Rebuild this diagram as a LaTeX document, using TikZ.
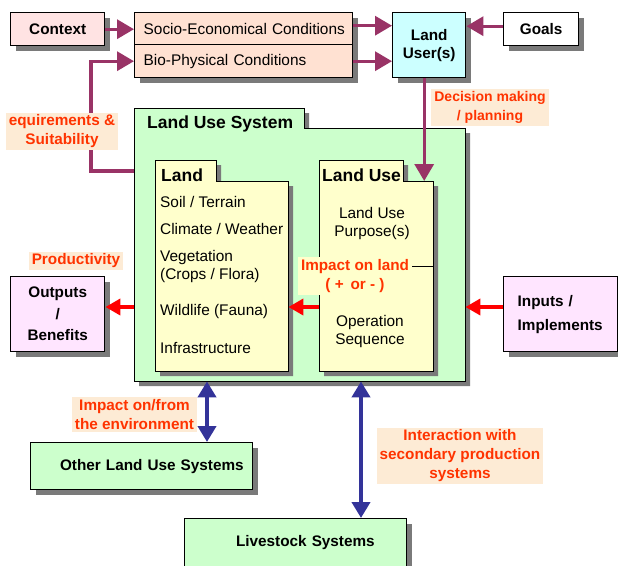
\documentclass[tikz,border=0pt]{standalone}
\usepackage{fontspec}
\setmainfont{Liberation Sans}
\usetikzlibrary{arrows.meta,shadows}

\definecolor{rosebox}{HTML}{FFE3E3}
\definecolor{peachbox}{HTML}{FFE1D2}
\definecolor{skybox}{HTML}{CCFFFF}
\definecolor{greenbox}{HTML}{CCFFCC}
\definecolor{creambox}{HTML}{FFFFCC}
\definecolor{lilacbox}{HTML}{FFE5FF}
\definecolor{plumline}{HTML}{993366}
\definecolor{blueline}{HTML}{333399}
\definecolor{labelred}{HTML}{FF3300}
\definecolor{labelbg}{HTML}{FDEBD5}
\definecolor{boxshade}{HTML}{7A7A7A}

\newcommand{\folderbox}[7]{%
  \fill[boxshade] (#1+5,#2+5) -- (#3+5,#2+5) -- (#3+5,#4+5) -- (#5+5,#4+5) -- (#5+5,#6+5) -- (#1+5,#6+5) -- cycle;
  \filldraw[fill=#7, draw=black, line width=1pt] (#1,#2) -- (#3,#2) -- (#3,#4) -- (#5,#4) -- (#5,#6) -- (#1,#6) -- cycle;}

\tikzset{
  box/.style={draw=black, line width=1.4pt, anchor=north west, inner sep=0pt,
    drop shadow={shadow xshift=5pt, shadow yshift=-5pt, fill=boxshade, opacity=1}},
  area/.style={anchor=north west, inner sep=0pt},
  boldtext/.style={font=\bfseries\fontsize{15.3}{18}\selectfont},
  plaintext/.style={font=\fontsize{15.4}{18}\selectfont},
  headtext/.style={font=\bfseries\fontsize{17.5}{20}\selectfont, inner sep=0pt},
  item/.style={plaintext, inner sep=0pt},
  biglbl/.style={fill=labelbg, text=labelred, align=center, inner xsep=3pt, inner ysep=2pt,
    font=\bfseries\fontsize{15.3}{19}\selectfont},
  plumarrow/.style={draw=plumline, line width=3.3pt, -{Triangle[length=17pt,width=19pt]}},
  redarrow/.style={draw=red, line width=4pt, -{Triangle[length=15pt,width=16pt]}},
  bluearrow/.style={draw=blueline, line width=4.5pt,
    {Triangle[length=16pt,width=18pt]}-{Triangle[length=16pt,width=18pt]}}
}

\begin{document}
\begin{tikzpicture}[x=1pt, y=-1pt]
\useasboundingbox (0,0) rectangle (618,565);
\coordinate (redy) at (0,307);
\coordinate (leftbar) at (207,0);
\coordinate (rightbar) at (361,0);

% top row
\node[box, fill=rosebox, minimum width=94pt, minimum height=33pt, boldtext] (context) at (10,12) {Context};
\node[box, fill=peachbox, text width=200pt, align=left, inner xsep=9pt, minimum height=32pt, plaintext] (socio) at (134,12) {\mbox{Socio-Economical Conditions}};
\node[box, fill=peachbox, text width=200pt, align=left, inner xsep=9pt, minimum height=33pt, plaintext] (bio) at (134,44) {\mbox{Bio-Physical Conditions}};
\node[box, fill=skybox, minimum width=73pt, minimum height=65pt, align=center, boldtext] (user) at (392,12) {Land\\User(s)};
\node[box, fill=white, minimum width=75pt, minimum height=33pt, boldtext] (goals) at (503,12) {Goals};

% land use system
\folderbox{134}{108}{304}{128}{465}{381}{greenbox}
\node[area, minimum width=331pt, minimum height=253pt] (lus) at (134,128) {};
\node[headtext, anchor=west] (lustitle) at (147,124) {Land Use System};

\folderbox{155}{160}{216}{181}{288}{371}{creambox}
\node[area, minimum width=133pt, minimum height=190pt] (land) at (155,181) {};
\node[headtext, anchor=west] (landtitle) at (161,175) {Land};
\node[item, anchor=west] (soil) at (160,202) {Soil / Terrain};
\node[item, anchor=west] (climate) at (160,229) {Climate / Weather};
\node[item, anchor=west, align=left] (vegetation) at (160,267) {Vegetation\\(Crops / Flora)};
\node[item, anchor=west] (wildlife) at (160,312) {Wildlife (Fauna)};
\node[item, anchor=west] (infra) at (160,348) {Infrastructure};

\folderbox{319}{160}{403}{181}{433}{371}{creambox}
\node[area, minimum width=114pt, minimum height=190pt] (landuse) at (319,181) {};
\node[headtext, anchor=west] (landusetitle) at (322,175) {Land Use};
\node[item, align=center] (purpose) at (372,224) {Land Use\\Purpose(s)};
\node[item, align=center] (operation) at (370,332) {Operation\\Sequence};

% side and bottom boxes
\node[box, fill=lilacbox, minimum width=94pt, minimum height=75pt, align=center,
  font=\bfseries\fontsize{15.3}{21.5}\selectfont] (outputs) at (10,276) {Outputs\\/\\Benefits};
\node[box, fill=lilacbox, text width=86pt, inner xsep=14pt, minimum height=75pt, align=left,
  font=\bfseries\fontsize{15.3}{24}\selectfont] (inputs) at (503,276) {Inputs /\\Implements};
\node[box, fill=greenbox, text width=204pt, inner xsep=9pt, align=right, minimum height=47pt, boldtext] (otherlus) at (30,442) {Other Land Use Systems};
\node[box, fill=greenbox, text width=158pt, inner xsep=32pt, align=right, minimum height=48pt, boldtext] (livestock) at (184,518) {Livestock Systems};

% connectors
\draw[plumarrow] (context.east) -- (context.east -| socio.west);
\draw[plumarrow] ([yshift=3pt]socio.east) -- ([yshift=3pt]socio.east -| user.west);
\draw[plumarrow] (bio.east) -- (bio.east -| user.west);
\draw[plumarrow] ([yshift=3pt]goals.west) -- ([yshift=3pt]goals.west -| user.east);
\draw[plumarrow] ([yshift=-43pt]lus.north west) -| ([xshift=-43pt]bio.west) -- (bio.west);
\draw[plumarrow] ([xshift=-5pt]user.south) -- ([xshift=-5pt]user.south |- landuse.north);

\draw[redarrow] (inputs.west |- redy) -- (lus.east |- redy);
\draw[redarrow] (landuse.west |- redy) -- (land.east |- redy);
\draw[redarrow] (lus.west |- redy) -- (outputs.east |- redy);

\draw[bluearrow] (leftbar |- lus.south) -- (leftbar |- otherlus.north);
\draw[bluearrow] (rightbar |- lus.south) -- (rightbar |- livestock.north);

% labels
\node[biglbl] (suit) at (62,131.5) {equirements \&\\Suitability};
\node[biglbl, font=\bfseries\fontsize{14}{19}\selectfont] (decision) at (490,107.5) {Decision making\\/ planning};
\node[biglbl] (productivity) at (76,261) {Productivity};
\node[biglbl, fill=creambox] (impact) at (355,276) {Impact on land\\( +\,\ or - )};
\draw[line width=0.8pt] ([yshift=10pt]impact.east) -- ([yshift=10pt]impact.east -| landuse.east);
\node[biglbl] (environment) at (134.5,414.5) {Impact on/from\\the environment};
\node[biglbl] (interaction) at (460,456) {Interaction with\\secondary production\\systems};
\end{tikzpicture}
\end{document}
